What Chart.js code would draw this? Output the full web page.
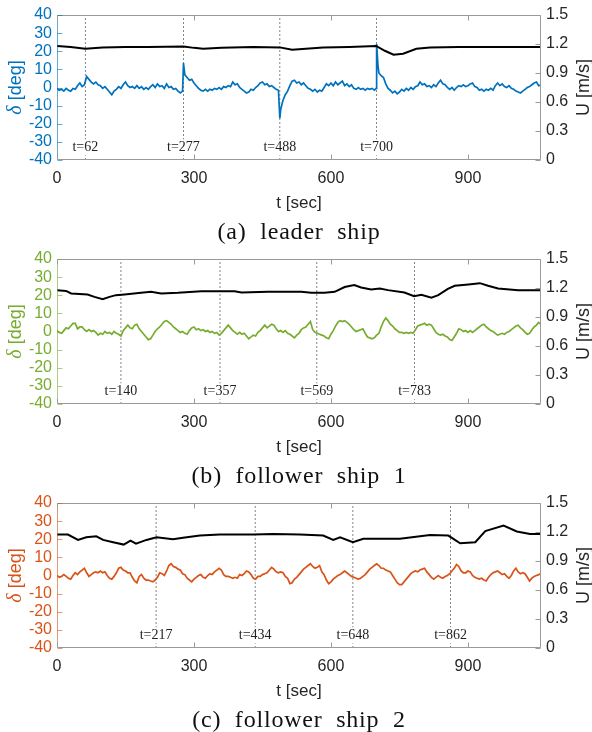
<!DOCTYPE html>
<html>
<head>
<meta charset="utf-8">
<script src="https://cdn.jsdelivr.net/npm/chart.js@4.4.1/dist/chart.umd.min.js"></script>
<style>
  html, body { margin: 0; padding: 0; background: #fff; }
  canvas { display: block; }
</style>
</head>
<body>
<canvas id="chart-a" width="592" height="244"></canvas>
<canvas id="chart-b" width="592" height="244"></canvas>
<canvas id="chart-c" width="592" height="244"></canvas>
<script>
// tick labels
const xTicks = [0, 300, 600, 900];
const deltaTicks = [-40, -30, -20, -10, 0, 10, 20, 30, 40];
const speedTicks = [0, 0.3, 0.6, 0.9, 1.2, 1.5];

// leader ship rudder angle [deg]
const timeA = [
  0, 5, 10, 15, 20, 25, 30, 35, 40, 45,
  50, 55, 60, 65, 70, 75, 80, 85, 90, 95,
  100, 105, 110, 115, 120, 125, 130, 135, 140, 145,
  150, 155, 160, 165, 170, 175, 180, 185, 190, 195,
  200, 205, 210, 215, 220, 225, 230, 235, 240, 245,
  250, 255, 260, 265, 270, 275, 277,
  280, 285, 290, 295, 300, 305, 310, 315, 320, 325,
  330, 335, 340, 345, 350, 355, 360, 365, 370, 375,
  380, 385, 390, 395, 400, 405, 410, 415, 420, 425,
  430, 435, 440, 445, 450, 455, 460, 465, 470, 475,
  480, 485, 488,
  490, 495, 500, 505, 510, 515, 520, 525, 530, 535,
  540, 545, 550, 555, 560, 565, 570, 575, 580, 585,
  590, 595, 600, 605, 610, 615, 620, 625, 630, 635,
  640, 645, 650, 655, 660, 665, 670, 675, 680, 685,
  690, 695, 699, 700, 703,
  705, 710, 715, 720, 725, 730, 735, 740, 745, 750,
  755, 760, 765, 770, 775, 780, 785, 790, 795, 800,
  805, 810, 815, 820, 825, 830, 835, 840, 845, 850,
  855, 860, 865, 870, 875, 880, 885, 890, 895, 900,
  905, 910, 915, 920, 925, 930, 935, 940, 945, 950,
  955, 960, 965, 970, 975, 980, 985, 990, 995, 1000,
  1005, 1010, 1015, 1020, 1025, 1030, 1035, 1040, 1045, 1050,
  1055, 1060
];
const deltaA = [
  -0.5, -1.5, -1, -2, -0.5, -1.5, -2, -0.5, -1, 1,
  2.5, 0.5, 1.5, 6, 4.5, 3, 2, 3, 1.5, 1,
  -0.5, 0.5, -1, -2.5, -4, -2, -1, 0.5, -0.5, 1.5,
  3, 1, 0, 0.5, -0.5, 1, -0.5, 0.5, -1, 0,
  -1, 0.5, 1.5, 0, 2, 0.5, 1, -0.5, 2, 0,
  0.5, -1, -0.5, -2, -3, -2, 13.5,
  7, 5.5, 4, 4.5, 2.5, 1, -0.5, -1.5, -2, -1,
  -2, -1, -1.5, -0.5, -1, 0, -1, 0.5, 0, 1,
  0.5, 3, 1.5, 2, 0, -1, -2, -3, -2.5, -1,
  -1.5, 0, 1, 2.5, 3, 1.5, 2, 0.5, 1, 0,
  -1, -1.5, -17,
  -12, -7, -4, -2, 1, 3.5, 4, 2.5, 3, 1.5,
  2.5, 1, -0.5, -1, -2, -1, -2.5, -1.5, -2, 0,
  2, 1, 2.5, 1, 3, 1.5, 2.5, 3.5, 1, 2,
  0.5, 1.5, -0.5, -1, 0, -1, -0.5, -1.5, -0.5, -1,
  -0.5, -1.5, -0.5, 24, 12,
  8, 6.5, 5.5, 2, -0.5, -1.5, -3, -2, -3.5, -2.5,
  -1, -2, -0.5, -1.5, 0, -1, 0.5, 1, 3, 1.5,
  2, 0.5, 1, 0, 1.5, 0.5, 2.5, 4, 2, 1.5,
  0, -1, 0, -1.5, 0, 1, 0.5, 1.5, 0.5, 1,
  2, 2.5, 0.5, 0, -1.5, -1, -2, -1, -1.5, -0.5,
  -1.5, 1, 2.5, 1, 2, 0.5, 0, 1, -0.5, -1,
  -2, -2.5, -3, -2, -1, 0, 0.5, 1.5, 2.5, 3,
  1, 1.5
];

// follower ships sample times [sec]
const timeBC = [
  0, 5, 10, 15, 20, 25, 30, 35, 40, 45,
  50, 55, 60, 65, 70, 75, 80, 85, 90, 95,
  100, 105, 110, 115, 120, 125, 130, 135, 140, 145,
  150, 155, 160, 165, 170, 175, 180, 185, 190, 195,
  200, 205, 210, 215, 220, 225, 230, 235, 240, 245,
  250, 255, 260, 265, 270, 275, 280, 285, 290, 295,
  300, 305, 310, 315, 320, 325, 330, 335, 340, 345,
  350, 355, 360, 365, 370, 375, 380, 385, 390, 395,
  400, 405, 410, 415, 420, 425, 430, 435, 440, 445,
  450, 455, 460, 465, 470, 475, 480, 485, 490, 495,
  500, 505, 510, 515, 520, 525, 530, 535, 540, 545,
  550, 555, 560, 565, 570, 575, 580, 585, 590, 595,
  600, 605, 610, 615, 620, 625, 630, 635, 640, 645,
  650, 655, 660, 665, 670, 675, 680, 685, 690, 695,
  700, 705, 710, 715, 720, 725, 730, 735, 740, 745,
  750, 755, 760, 765, 770, 775, 780, 785, 790, 795,
  800, 805, 810, 815, 820, 825, 830, 835, 840, 845,
  850, 855, 860, 865, 870, 875, 880, 885, 890, 895,
  900, 905, 910, 915, 920, 925, 930, 935, 940, 945,
  950, 955, 960, 965, 970, 975, 980, 985, 990, 995,
  1000, 1005, 1010, 1015, 1020, 1025, 1030, 1035, 1040, 1045,
  1050, 1055, 1060
];
const deltaB = [
  0.5, -0.5, -1, 0.5, 2, 1.5, 3, 4.5, 4.5, 1.5,
  2.5, 2.5, 1, 0, 1, 0, 0.5, -0.5, -2, -1,
  -1.5, 0, -1, -0.5, -1.5, 0, -1, -1.5, -2.5, 0.5,
  2, 3.5, 2, 1.5, 3.5, 4, 1.5, 0, -1.5, -3,
  -4.5, -4, -2, 0, 1.5, 2.5, 4, 5.5, 6, 5,
  4, 2.5, 1.5, 0.5, -0.5, 0, -1, -1.5, 0.5, 2,
  2.5, 1, 1.5, 0.5, 1, 0, 0.5, -0.5, 0, -1,
  -0.5, -2, -1, 0.5, 2, 3.5, 2, 0.5, -0.5, -1.5,
  -0.5, -1.5, -1, -2.5, -4, -3, -2, -2.5, -0.5, 0.5,
  2, 3.5, 2, 3, 4, 3.5, 1.5, 0, 0.5, -0.5,
  0.5, -1, -1.5, -2.5, -3.5, -2, -1, 1, 2, 2.5,
  4, 5.5, 1, -0.5, -1, -1.5, -2, -2.5, -3.5, -4,
  -1.5, 0.5, 3, 5, 6, 5.5, 6, 5, 4, 2.5,
  1, 0, 0.5, 1, 1.5, -1, -3, -3.5, -4, -3.5,
  -2, -1, 2.5, 5.5, 7.5, 6, 4, 3, 1.5, 0.5,
  -0.5, -0.5, -1, -0.5, -1, -0.5, -1, 1, 3, 3.5,
  4, 4.5, 3.5, 4, 3.5, 1.5, -0.5, -1.5, -2, -1.5,
  -2.5, -3, -4.5, -5, -3, -1, 1.5, 1, 0, 0.5,
  -0.5, 0.5, -0.5, 0.5, 1.5, 2.5, 3.5, 4, 2.5, 1.5,
  0.5, 0, -1, -2, -1.5, -1, -1.5, -0.5, 0, 1,
  2, 3, 3.5, 2, 1, -0.5, -1.5, -1, 1, 2.5,
  3.5, 5, 4
];
const deltaC = [
  0, -1, -0.5, 0.5, -0.5, -1.5, -2, 0, 1.5, 0.5,
  2, 3, 4, 1.5, -0.5, 0.5, 1.5, 2, 1.5, 2.5,
  1.5, 2, 0, -1.5, -2, -0.5, 1.5, 4, 4.5, 3,
  2.5, 1.5, 1.5, -1, -3, -4, -0.5, 0.5, -1.5, -2.5,
  -2.5, -3, -3.5, -2.5, -1, 1.5, 1, 0, 2.5, 5.5,
  6.5, 5, 4.5, 3.5, 3, 1, 0.5, -1.5, -2.5, -3.5,
  -2, -1, 0, 0.5, -1, -1.5, 0, 1, 0.5, 2,
  3, 4, 3, 0.5, -0.5, -0.5, -1, -1.5, -1, -1.5,
  0.5, 0, 1, 2.5, 2, 0.5, -1.5, -2, -0.5, -0.5,
  0.5, 1, 1.5, 3, 4.5, 3.5, 2, 1.5, 2, 1.5,
  -0.5, -1.5, -4.5, -4, -2, -1, 0.5, 2, 3.5, 4.5,
  5.5, 6.5, 5, 4, 4.5, 5.5, 2, 0.5, -2.5, -4.5,
  -3.5, -2, -1, 0, 0.5, 1.5, 2.5, 1.5, 0.5, -0.5,
  -1, -1.5, -2, -1.5, -0.5, 0.5, 2, 3.5, 4.5, 5.5,
  6.5, 5.5, 4, 4, 3, 2.5, 2, 0, -2, -4,
  -5, -5, -3.5, -2, -0.5, 1, 2, 2.5, 2, 3,
  3.5, 4, 2, 0.5, -1, -2, -1, 0, -1, -1.5,
  -0.5, 0, 1, 2.5, 4, 6, 5, 2.5, 1.5, 1.5,
  2.5, 2, 0, -1, -1.5, -2, -1.5, -2.5, -3, -1,
  0.5, 1.5, 2, 2.5, 1.5, 0.5, 1, -0.5, -1.5, 0,
  2.5, 4, 2, 1, 1.5, 1, -1, -3, -1.5, -0.5,
  0, 0.5, 1
];

// ship speed U [m/s]
const speedTimeA = [0, 30, 62, 100, 150, 200, 277, 300, 320, 360, 430, 488, 515, 545, 583, 640, 699, 718, 737, 758, 787, 817, 880, 960, 1060];
const speedA = [1.18, 1.17, 1.15, 1.165, 1.17, 1.17, 1.175, 1.16, 1.15, 1.16, 1.17, 1.165, 1.14, 1.15, 1.165, 1.17, 1.18, 1.13, 1.09, 1.10, 1.15, 1.165, 1.17, 1.17, 1.17];
const speedTimeB = [0, 20, 31, 67, 82, 100, 115, 129, 148, 184, 206, 228, 265, 316, 389, 404, 462, 535, 557, 586, 608, 630, 651, 666, 688, 707, 725, 761, 782, 798, 820, 835, 856, 871, 901, 926, 944, 966, 1010, 1060];
const speedB = [1.178, 1.17, 1.143, 1.133, 1.108, 1.084, 1.108, 1.126, 1.133, 1.15, 1.16, 1.143, 1.15, 1.167, 1.167, 1.153, 1.16, 1.16, 1.15, 1.15, 1.16, 1.21, 1.23, 1.205, 1.185, 1.195, 1.178, 1.153, 1.115, 1.13, 1.10, 1.126, 1.19, 1.223, 1.237, 1.25, 1.223, 1.195, 1.178, 1.178];
const speedTimeC = [0, 24, 46, 64, 86, 101, 123, 146, 161, 173, 196, 218, 254, 276, 313, 357, 430, 474, 532, 583, 605, 620, 648, 671, 751, 817, 857, 883, 916, 938, 978, 1007, 1036, 1060];
const speedC = [1.174, 1.174, 1.118, 1.146, 1.156, 1.118, 1.094, 1.07, 1.11, 1.08, 1.118, 1.146, 1.125, 1.14, 1.163, 1.174, 1.174, 1.18, 1.174, 1.163, 1.118, 1.146, 1.094, 1.13, 1.13, 1.17, 1.163, 1.083, 1.094, 1.21, 1.267, 1.205, 1.18, 1.18];

// marked event times [sec]
const eventsA = [62, 277, 488, 700];
const eventsB = [140, 357, 569, 783];
const eventsC = [217, 434, 648, 862];

const panels = [
  { id: 'chart-a', caption: '(a)  leader  ship', color: '#0072BD', time: timeA, delta: deltaA, speedTime: speedTimeA, speed: speedA, events: eventsA },
  { id: 'chart-b', caption: '(b)  follower  ship  1', color: '#77AC30', time: timeBC, delta: deltaB, speedTime: speedTimeB, speed: speedB, events: eventsB },
  { id: 'chart-c', caption: '(c)  follower  ship  2', color: '#D95319', time: timeBC, delta: deltaC, speedTime: speedTimeC, speed: speedC, events: eventsC }
];

const SANS = '"Liberation Sans", Arial, sans-serif';
const SERIF = '"Liberation Serif", "Times New Roman", serif';
const AXIS_DARK = '#262626';
const BOX = '#9a9a9a';

const toPoints = (xs, ys) => xs.map((x, i) => ({ x: x, y: ys[i] }));

// box, inward ticks, titles, event labels and caption
const decorPlugin = {
  id: 'decor',
  afterDraw(chart, args, opts) {
    const { ctx, chartArea: a, scales } = chart;
    const L = Math.round(a.left) + 0.5, R = Math.round(a.right) - 0.5;
    const T = Math.round(a.top) + 0.5, B = Math.round(a.bottom) - 0.5;
    ctx.save();
    ctx.lineWidth = 1;

    // event labels with white backing
    ctx.font = '14px ' + SERIF;
    ctx.textAlign = 'center';
    ctx.textBaseline = 'middle';
    opts.events.forEach(t => {
      const x = scales.x.getPixelForValue(t);
      const y = scales.y.getPixelForValue(-33);
      const label = 't=' + t;
      const w = ctx.measureText(label).width;
      ctx.fillStyle = '#fff';
      ctx.fillRect(x - w / 2 - 1, y - 8, w + 2, 16);
      ctx.fillStyle = '#222';
      ctx.fillText(label, x, y);
    });

    // frame
    ctx.strokeStyle = BOX;
    ctx.beginPath();
    ctx.moveTo(L, T); ctx.lineTo(R, T);
    ctx.moveTo(L, B); ctx.lineTo(R, B);
    ctx.moveTo(R, T); ctx.lineTo(R, B);
    ctx.stroke();
    ctx.strokeStyle = opts.color;
    ctx.globalAlpha = 0.6;
    ctx.beginPath();
    ctx.moveTo(L, T); ctx.lineTo(L, B);
    ctx.stroke();
    ctx.globalAlpha = 1;

    // ticks pointing into the plot
    const tl = 5;
    ctx.strokeStyle = BOX;
    ctx.beginPath();
    xTicks.forEach(v => {
      const x = Math.round(scales.x.getPixelForValue(v)) + 0.5;
      ctx.moveTo(x, B); ctx.lineTo(x, B - tl);
      ctx.moveTo(x, T); ctx.lineTo(x, T + tl);
    });
    speedTicks.forEach(v => {
      const y = Math.round(scales.u.getPixelForValue(v)) + 0.5;
      ctx.moveTo(R, y); ctx.lineTo(R - tl, y);
    });
    ctx.stroke();
    ctx.strokeStyle = opts.color;
    ctx.globalAlpha = 0.6;
    ctx.beginPath();
    deltaTicks.forEach(v => {
      const y = Math.round(scales.y.getPixelForValue(v)) + 0.5;
      ctx.moveTo(L, y); ctx.lineTo(L + tl, y);
    });
    ctx.stroke();
    ctx.globalAlpha = 1;

    const midY = (a.top + a.bottom) / 2;
    const midX = (a.left + a.right) / 2;

    // left title: italic delta + unit
    ctx.save();
    ctx.translate(16, midY);
    ctx.rotate(-Math.PI / 2);
    ctx.fillStyle = opts.color;
    ctx.textAlign = 'left';
    ctx.textBaseline = 'middle';
    const symFont = 'italic 20px ' + SERIF, unitFont = '18px ' + SANS;
    ctx.font = symFont;
    const w1 = ctx.measureText('δ').width;
    ctx.font = unitFont;
    const w2 = ctx.measureText(' [deg]').width;
    const start = -(w1 + w2) / 2;
    ctx.font = symFont;
    ctx.fillText('δ', start, 0);
    ctx.font = unitFont;
    ctx.fillText(' [deg]', start + w1, 0);
    ctx.restore();

    // right title
    ctx.save();
    ctx.translate(584, midY);
    ctx.rotate(-Math.PI / 2);
    ctx.fillStyle = AXIS_DARK;
    ctx.font = '18px ' + SANS;
    ctx.textAlign = 'center';
    ctx.textBaseline = 'middle';
    ctx.fillText('U [m/s]', 0, 0);
    ctx.restore();

    // x title and caption
    ctx.fillStyle = AXIS_DARK;
    ctx.font = '17px ' + SANS;
    ctx.textAlign = 'center';
    ctx.textBaseline = 'middle';
    ctx.fillText('t [sec]', midX, a.bottom + 43);
    ctx.fillStyle = '#111';
    ctx.font = '24px ' + SERIF;
    ctx.letterSpacing = '0.8px';
    ctx.fillText(opts.caption, midX, a.bottom + 73);
    ctx.restore();
  }
};

panels.forEach(p => {
  const eventLines = p.events.map(t => ({
    data: [{ x: t, y: -40 }, { x: t, y: 40 }],
    yAxisID: 'y',
    borderColor: '#666',
    borderWidth: 0.8,
    borderDash: [2, 2],
    order: 3
  }));

  new Chart(document.getElementById(p.id), {
    type: 'line',
    data: {
      datasets: [
        { data: toPoints(p.speedTime, p.speed), yAxisID: 'u', borderColor: '#000', borderWidth: 2, order: 1 },
        { data: toPoints(p.time, p.delta), yAxisID: 'y', borderColor: p.color, borderWidth: 1.7, order: 2 },
        ...eventLines
      ]
    },
    options: {
      responsive: false,
      animation: false,
      layout: { padding: { top: 15, left: 0, right: 0, bottom: 0 } },
      elements: { point: { radius: 0 }, line: { tension: 0 } },
      plugins: {
        legend: { display: false },
        tooltip: { enabled: false },
        decor: { events: p.events, color: p.color, caption: p.caption }
      },
      scales: {
        x: {
          type: 'linear',
          min: 0,
          max: 1060,
          afterBuildTicks: s => { s.ticks = xTicks.map(v => ({ value: v })); },
          afterFit: s => { s.height = 84; },
          grid: { display: false, drawTicks: false },
          border: { display: false },
          ticks: { font: { size: 16, family: SANS }, color: AXIS_DARK, padding: 9, maxRotation: 0, autoSkip: false }
        },
        y: {
          position: 'left',
          min: -40,
          max: 40,
          afterBuildTicks: s => { s.ticks = deltaTicks.map(v => ({ value: v })); },
          afterFit: s => { s.width = 57; },
          grid: { display: false, drawTicks: false },
          border: { display: false },
          ticks: { font: { size: 16, family: SANS }, color: p.color, padding: 5, autoSkip: false }
        },
        u: {
          position: 'right',
          min: 0,
          max: 1.5,
          afterBuildTicks: s => { s.ticks = speedTicks.map(v => ({ value: v })); },
          afterFit: s => { s.width = 51; },
          grid: { display: false, drawTicks: false },
          border: { display: false },
          ticks: {
            font: { size: 16, family: SANS },
            color: AXIS_DARK,
            padding: 5,
            autoSkip: false,
            callback: v => (v === 0 ? '0' : v.toFixed(1))
          }
        }
      }
    },
    plugins: [decorPlugin]
  });
});
</script>
</body>
</html>
